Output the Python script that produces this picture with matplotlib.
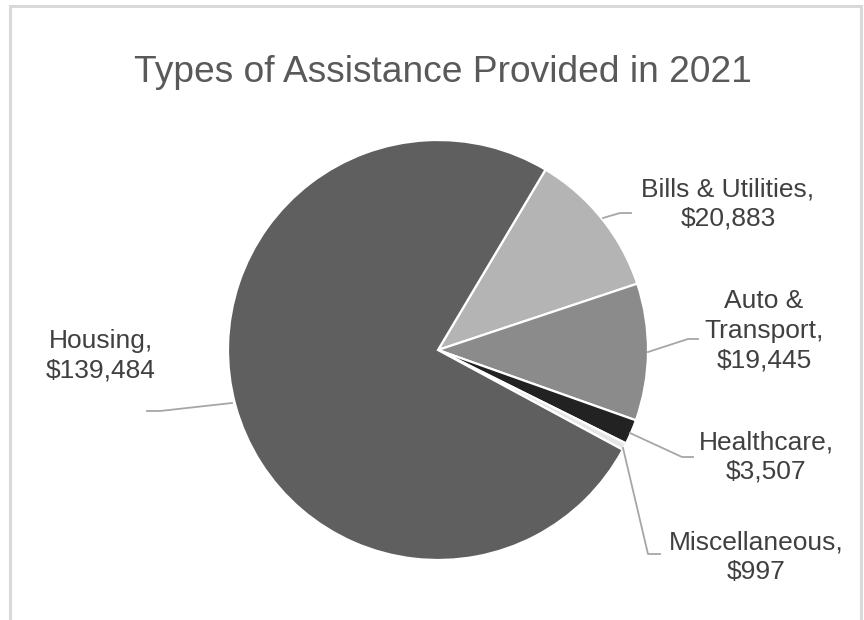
import matplotlib.pyplot as plt
import numpy as np

# chart data, in the order the slices go clockwise from the Bills slice
categories = ['Bills & Utilities', 'Auto & Transport', 'Healthcare', 'Miscellaneous', 'Housing']
amounts = [20883, 19445, 3507, 997, 139484]
label_text = ['Bills & Utilities,\n$20,883', 'Auto &\nTransport,\n$19,445',
              'Healthcare,\n$3,507', 'Miscellaneous,\n$997', 'Housing,\n$139,484']
colors = ['#b4b4b4', '#8b8b8b', '#222222', '#e6e6e6', '#5f5f5f']

W, H = 864, 620
fig = plt.figure(figsize=(W / 100, H / 100), dpi=100)
ax = fig.add_axes([0, 0, 1, 1])

def px(x, y):  # pixel coords (top-left origin) -> data coords
    return x, H - y

# chart area border
ax.plot([10, 10, 861, 861], [0, H - 6, H - 6, 0], color='#d9d9d9', lw=2.2, solid_joinstyle='miter')

cx, cy = px(438, 350)
ax.pie(amounts, colors=colors, startangle=59.2, counterclock=False,
       center=(cx, cy), radius=210, frame=True,
       wedgeprops=dict(edgecolor='white', linewidth=1.6))
ax.set_xlim(0, W)
ax.set_ylim(0, H)
ax.set_aspect('equal')
ax.axis('off')

# label centres and leader line points (pixel coords)
label_pos = [(728, 204), (764, 331), (766, 457), (756, 557), (101, 356)]
leaders = [
    [(603, 218), (620, 213), (631, 213)],
    [(648, 352), (688, 339), (698, 339)],
    [(630, 433), (682, 457), (693, 457)],
    [(623, 448), (648, 554), (660, 554)],
    [(232, 403), (160, 411), (147, 411)],
]

for txt, (lx, ly), pts in zip(label_text, label_pos, leaders):
    xs, ys = zip(*[px(a, b) for a, b in pts])
    ax.plot(xs, ys, color='#a6a6a6', lw=1.3)
    ax.text(*px(lx, ly), txt, ha='center', va='center', fontsize=19,
            family='Liberation Sans', color='#404040', linespacing=1.3)

ax.text(*px(443, 72), 'Types of Assistance Provided in 2021', ha='center', va='center',
        fontsize=26.7, family='Liberation Sans', color='#595959')

plt.savefig('out.png', dpi=100)
